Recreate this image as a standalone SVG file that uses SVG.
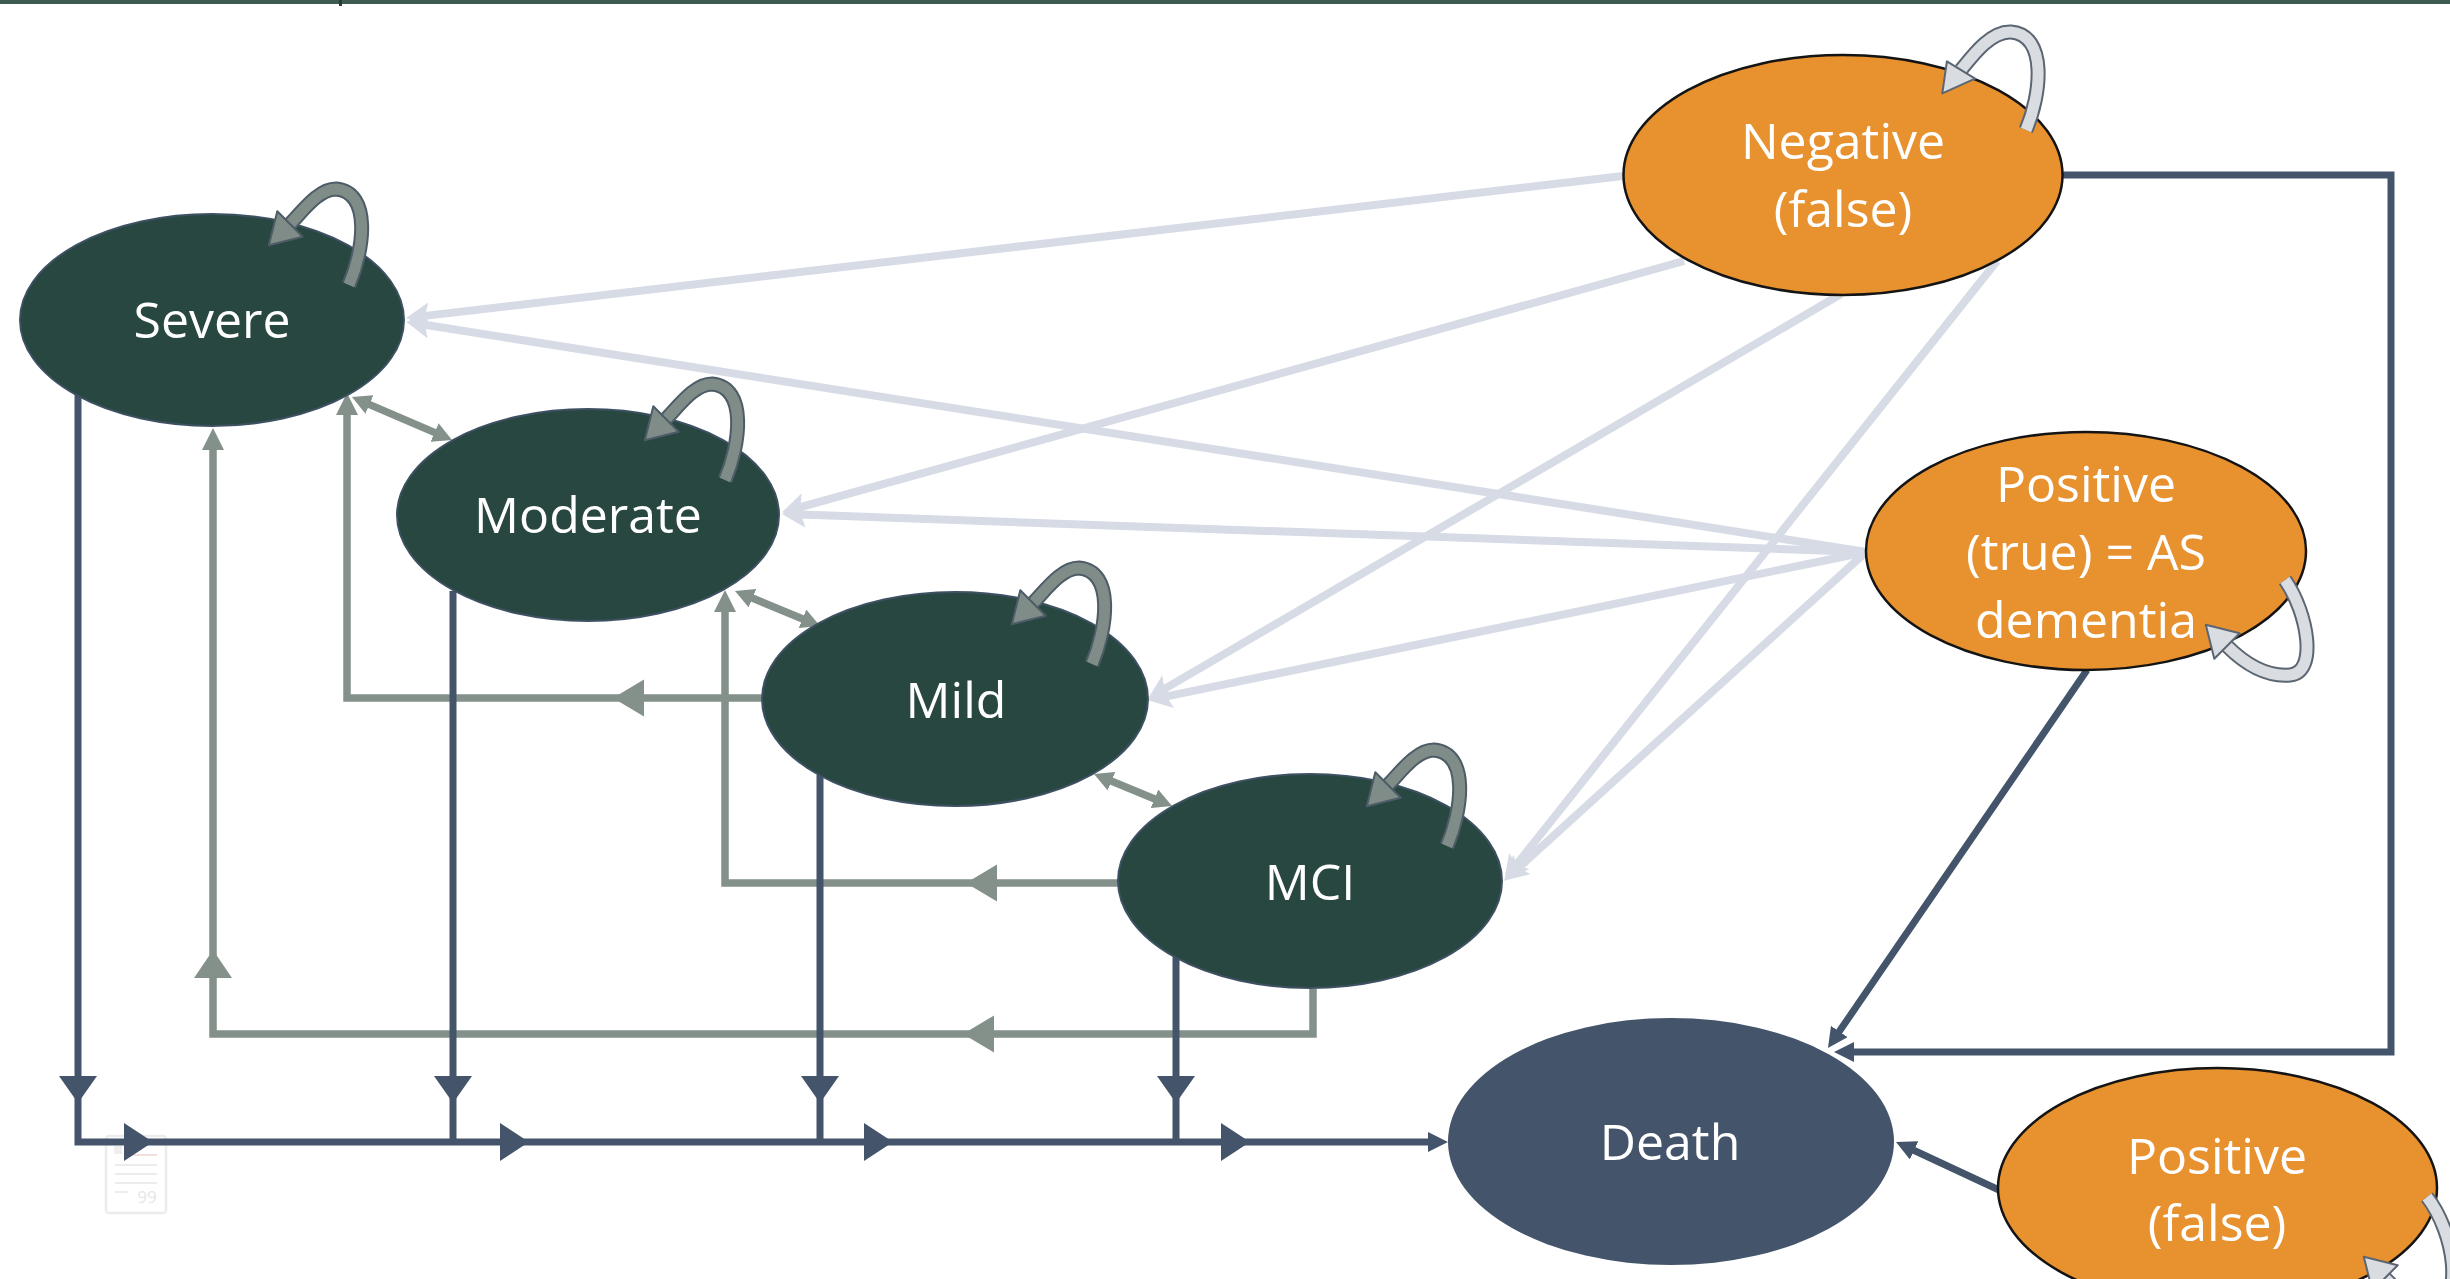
<svg xmlns="http://www.w3.org/2000/svg" width="2450" height="1279" viewBox="0 0 2450 1279">
<style>
.dk{fill:#284740;stroke:#3e5163;stroke-width:2}
.or{fill:#e8912f;stroke:#141414;stroke-width:2.5}
.dt{fill:#44546a}
.lbl{font-family:"Open Sans","Noto Sans",sans-serif;font-size:50px;fill:#ffffff;text-anchor:middle}
.lt{fill:none;stroke:#d6dbe5;stroke-width:8}
.sg{fill:none;stroke:#84918b;stroke-width:7.5}
.sl{fill:none;stroke:#44546a;stroke-width:7}
.sgf{fill:#84918b}
.slf{fill:#44546a}
.lpo{fill:none;stroke:#4d5c66;stroke-width:15}
.lpi{fill:none;stroke:#7f8c87;stroke-width:11}
.lpa{fill:#7f8c87;stroke:#4d5c66;stroke-width:2;stroke-linejoin:round}
.lqo{fill:none;stroke:#5b6672;stroke-width:15}
.lqi{fill:none;stroke:#d9dce1;stroke-width:11}
.lqa{fill:#d9dce1;stroke:#5b6672;stroke-width:2;stroke-linejoin:round}
.wm{fill:none;stroke:#ececec;stroke-width:2.5}
</style>
<defs>
<marker id="mLt" viewBox="0 0 24 26" refX="5" refY="13" markerWidth="24" markerHeight="26" markerUnits="userSpaceOnUse" orient="auto">
<path d="M0,0 L24,13 L0,26 L5,13 z" fill="#d6dbe5"/>
</marker>
<marker id="mSg" viewBox="0 0 22 22" refX="1" refY="11" markerWidth="22" markerHeight="22" markerUnits="userSpaceOnUse" orient="auto">
<path d="M0,0 L22,11 L0,22 z" fill="#84918b"/>
</marker>
<marker id="mSg2" viewBox="0 0 19 20" refX="1" refY="10" markerWidth="19" markerHeight="20" markerUnits="userSpaceOnUse" orient="auto-start-reverse">
<path d="M0,0 L19,10 L0,20 z" fill="#84918b"/>
</marker>
<marker id="mSl" viewBox="0 0 20 20" refX="1" refY="10" markerWidth="20" markerHeight="20" markerUnits="userSpaceOnUse" orient="auto">
<path d="M0,0 L20,10 L0,20 z" fill="#44546a"/>
</marker>
<g id="loopDk">
<path class="lpo" d="M137,-35 C152,-70 160,-128 124,-131 C106,-131 90,-108 78,-96"/>
<path class="lpi" d="M137,-35 C152,-70 160,-128 124,-131 C106,-131 90,-108 78,-96"/>
<polygon class="lpa" points="56.8,-74.8 90.7,-83.3 65.3,-108.7"/>
</g>
</defs>

<rect x="0" y="0" width="2450" height="4" fill="#3e5b53"/>
<rect x="339" y="0" width="3" height="6" fill="#2a3a35"/>

<g id="watermark">
<rect class="wm" x="106" y="1136" width="60" height="77" rx="3"/>
<rect x="114" y="1146" width="8" height="8" fill="#eeeeee"/>
<line x1="125" y1="1155" x2="157" y2="1155" stroke="#f3dede" stroke-width="2"/>
<line x1="115" y1="1165" x2="157" y2="1165" stroke="#ececec" stroke-width="2"/>
<line x1="115" y1="1174" x2="157" y2="1174" stroke="#ececec" stroke-width="2"/>
<line x1="115" y1="1183" x2="157" y2="1183" stroke="#ececec" stroke-width="2"/>
<line x1="115" y1="1192" x2="128" y2="1192" stroke="#ececec" stroke-width="2"/>
<text x="147" y="1203" font-family="Open Sans, sans-serif" font-size="17" fill="#e6e6e6" text-anchor="middle">99</text>
</g>

<g id="connectors">
<path class="lt" d="M1623,176 L424.9,315.9" marker-end="url(#mLt)"/>
<path class="lt" d="M1866,552 L424.8,324.8" marker-end="url(#mLt)"/>
<path class="lt" d="M1684,261 L800.3,507.2" marker-end="url(#mLt)"/>
<path class="lt" d="M1866,552 L801,514.6" marker-end="url(#mLt)"/>
<path class="lt" d="M1841,294 L1164.5,688.9" marker-end="url(#mLt)"/>
<path class="lt" d="M1866,552 L1166.6,696.4" marker-end="url(#mLt)"/>
<path class="lt" d="M1997,261 L1516.2,864.9" marker-end="url(#mLt)"/>
<path class="lt" d="M1866,552 L1518.3,867.9" marker-end="url(#mLt)"/>

<path class="sg" d="M762,698 H347 V414" marker-end="url(#mSg)"/>
<polygon class="sgf" points="613,698 644,679.5 644,716.5"/>
<path class="sg" d="M1119,883 H725 V611" marker-end="url(#mSg)"/>
<polygon class="sgf" points="966,883 997,864.5 997,901.5"/>
<path class="sg" d="M1313,989 V1034 H213 V449" marker-end="url(#mSg)"/>
<polygon class="sgf" points="963,1034 994,1015.5 994,1052.5"/>
<polygon class="sgf" points="213,950 194,978 232,978"/>
<path class="sg" d="M368.5,404.1 L435.5,432.9" marker-start="url(#mSg2)" marker-end="url(#mSg2)"/>
<path class="sg" d="M751.6,597.8 L803.4,619.2" marker-start="url(#mSg2)" marker-end="url(#mSg2)"/>
<path class="sg" d="M1110.6,780.8 L1155.4,799.2" marker-start="url(#mSg2)" marker-end="url(#mSg2)"/>

<path class="sl" d="M78,395 V1142 H1429" marker-end="url(#mSl)"/>
<path class="sl" d="M453,591 V1142"/>
<path class="sl" d="M820,775 V1142"/>
<path class="sl" d="M1176,957 V1142"/>
<polygon class="slf" points="59,1076 97,1076 78,1103"/>
<polygon class="slf" points="434,1076 472,1076 453,1103"/>
<polygon class="slf" points="801,1076 839,1076 820,1103"/>
<polygon class="slf" points="1157,1076 1195,1076 1176,1103"/>
<polygon class="slf" points="124,1123 124,1161 153,1142"/>
<polygon class="slf" points="500,1123 500,1161 529,1142"/>
<polygon class="slf" points="864,1123 864,1161 893,1142"/>
<polygon class="slf" points="1221,1123 1221,1161 1250,1142"/>
<path class="sl" d="M2063,175 H2391 V1052 H1853" marker-end="url(#mSl)"/>
<path class="sl" d="M2087,670 L1838.7,1032.3" marker-end="url(#mSl)"/>
<path class="sl" d="M1999,1190 L1913.2,1150" marker-end="url(#mSl)"/>
</g>

<g id="severe">
<ellipse class="dk" cx="212" cy="320" rx="192" ry="106"/>
<text class="lbl" x="212" y="338">Severe</text>
</g>
<g id="moderate">
<ellipse class="dk" cx="588" cy="515" rx="191" ry="106"/>
<text class="lbl" x="588" y="533">Moderate</text>
</g>
<g id="mild">
<ellipse class="dk" cx="955" cy="699" rx="193" ry="107"/>
<text class="lbl" x="956" y="718">Mild</text>
</g>
<g id="mci">
<ellipse class="dk" cx="1310" cy="881" rx="192" ry="107"/>
<text class="lbl" x="1310" y="900">MCI</text>
</g>
<g id="death">
<ellipse class="dt" cx="1671" cy="1141.5" rx="223" ry="123.5"/>
<text class="lbl" x="1670" y="1160">Death</text>
</g>
<g id="negative-false">
<ellipse class="or" cx="1843" cy="175" rx="219.5" ry="120"/>
<text class="lbl" x="1843" y="159">Negative</text>
<text class="lbl" x="1843" y="227">(false)</text>
</g>
<g id="positive-true">
<ellipse class="or" cx="2086" cy="551" rx="220" ry="119"/>
<text class="lbl" x="2086" y="502">Positive</text>
<text class="lbl" x="2086" y="570">(true) = AS</text>
<text class="lbl" x="2086" y="638">dementia</text>
</g>
<g id="positive-false">
<ellipse class="or" cx="2217.5" cy="1188" rx="219.5" ry="120"/>
<text class="lbl" x="2217" y="1174">Positive</text>
<text class="lbl" x="2217" y="1241">(false)</text>
</g>

<g id="self-loops">
<use href="#loopDk" transform="translate(212,320)"/>
<use href="#loopDk" transform="translate(588,515)"/>
<use href="#loopDk" transform="translate(955,699)"/>
<use href="#loopDk" transform="translate(1310,881)"/>
<g transform="translate(1843,175)">
<path class="lqo" d="M183,-45 C198,-80 205,-140 168,-143 C148,-144 130,-120 118,-105"/>
<path class="lqi" d="M183,-45 C198,-80 205,-140 168,-143 C148,-144 130,-120 118,-105"/>
<polygon class="lqa" points="99.3,-81.6 132.1,-96.3 103.9,-113.7"/>
</g>
<g transform="translate(2086,551)">
<path class="lqo" d="M199,29 C222,62 232,122 204,124 C180,126 158,112 141,95"/>
<path class="lqi" d="M199,29 C222,62 232,122 204,124 C180,126 158,112 141,95"/>
<polygon class="lqa" points="119.8,73.8 153.7,82.3 128.3,107.7"/>
</g>
<g transform="translate(2217,1188)">
<path class="lqo" d="M210,9 C238,45 248,115 215,118 C195,120 180,102 168,90"/>
<path class="lqi" d="M210,9 C238,45 248,115 215,118 C195,120 180,102 168,90"/>
<polygon class="lqa" points="146.8,68.8 180.7,77.3 155.3,102.7"/>
</g>
</g>
</svg>
